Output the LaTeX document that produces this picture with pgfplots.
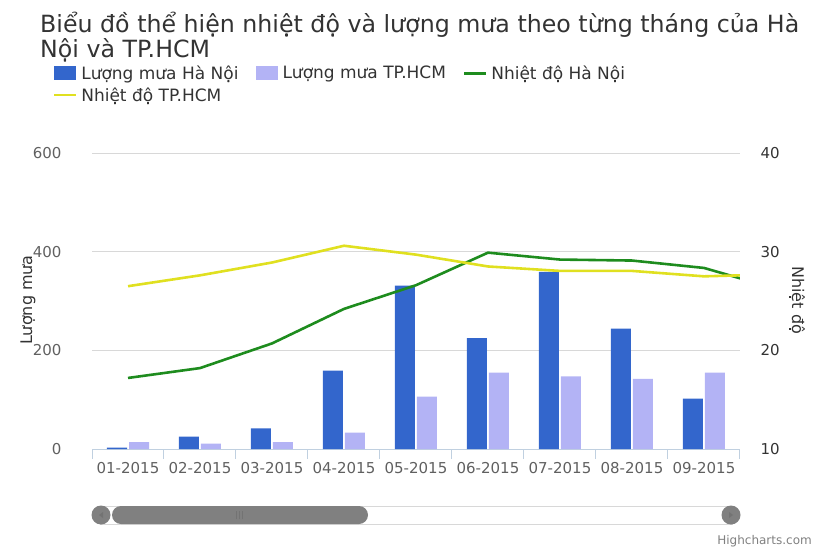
\documentclass[border=0pt]{standalone}
\usepackage{fontspec}
\setmainfont{DejaVu Sans}
\usepackage{pgfplots}
\pgfplotsset{compat=1.18}
\definecolor{hnrain}{HTML}{3366CC}
\definecolor{hcmrain}{HTML}{B3B3F5}
\definecolor{hntemp}{HTML}{1E8C1E}
\definecolor{hcmtemp}{HTML}{E0E020}
\definecolor{txt}{HTML}{333333}
\definecolor{lbl}{HTML}{606060}
\definecolor{axisc}{HTML}{C0D0E0}
\definecolor{gridc}{HTML}{D8D8D8}
\definecolor{sbar}{HTML}{808080}

\pgfplotstableread{
x hn hcm
0 3 14
1 25 11
2 42 14
3 159 33
4 331 106
5 225 155
6 359 147
7 244 142
8 102 155
}\rain

\pgfplotstableread{
x hn hcm
0 17.2 26.5
1 18.2 27.6
2 20.7 28.9
3 24.2 30.6
4 26.6 29.7
5 29.9 28.5
6 29.2 28.05
7 29.1 28.05
8 28.35 27.5
9 26.25 27.7
}\temp

\begin{document}
\begin{tikzpicture}
\useasboundingbox (0,0) rectangle (825pt,550pt);
\begin{axis}[
  at={(92pt,101pt)}, anchor=south west,
  scale only axis, width=648pt, height=296pt,
  xmin=-0.5, xmax=8.5, ymin=0, ymax=600,
  ybar=2pt, bar width=20pt,
  axis x line*=bottom, axis y line*=left,
  x axis line style={axisc, line width=1pt},
  y axis line style={draw=none},
  xtick={-0.5,0.5,...,8.5},
  xticklabels={01-2015,02-2015,03-2015,04-2015,05-2015,06-2015,07-2015,08-2015,09-2015,{}},
  xticklabel style={xshift=36pt, font=\fontsize{15}{18}\selectfont, text=lbl},
  tick align=outside, major tick length=10pt,
  xtick style={axisc, line width=1pt},
  ytick={0,200,400,600},
  ytick style={draw=none},
  ymajorgrids, grid style={gridc, line width=1pt},
  /pgf/number format/assume math mode=true,
  yticklabel style={font=\fontsize{15}{18}\selectfont, text=lbl, anchor=east, xshift=-17pt},
  ylabel={Lượng mưa},
  ylabel style={at={(axis description cs:-0.0988,0.503)}, anchor=center, font=\fontsize{16}{18}\selectfont, text=txt},
]
\addplot[fill=hnrain, draw=none] table[x=x, y=hn] {\rain};
\addplot[fill=hcmrain, draw=none] table[x=x, y=hcm] {\rain};
\end{axis}
\begin{axis}[
  at={(92pt,101pt)}, anchor=south west,
  scale only axis, width=648pt, height=296pt,
  xmin=-0.5, xmax=8.5, ymin=10, ymax=40,
  axis x line=none, axis y line*=right,
  y axis line style={draw=none},
  ytick={10,20,30,40},
  ytick style={draw=none},
  /pgf/number format/assume math mode=true,
  yticklabel style={font=\fontsize{15}{18}\selectfont, text=txt, anchor=west, xshift=17pt},
  ylabel={Nhiệt độ},
  ylabel style={at={(axis description cs:1.088,0.503)}, anchor=center, rotate=180, font=\fontsize{16}{18}\selectfont, text=txt},
  legend columns=3,
  legend cell align=left,
  legend style={at={(axis description cs:-0.0605,1.302)}, anchor=north west, draw=none, fill=none,
    font=\fontsize{17}{20}\selectfont, text=txt, inner sep=0pt, row sep=2.5pt,
    /tikz/every even column/.append style={column sep=15pt}},
]
\addlegendimage{legend image code/.code={\fill[hnrain, draw=none] (0pt,-7pt) rectangle (22pt,7pt); \path[draw=none, fill=none] (0pt,0pt) -- (25pt,0pt);}}
\addlegendentry{Lượng mưa Hà Nội}
\addlegendimage{legend image code/.code={\fill[hcmrain, draw=none] (0pt,-7pt) rectangle (22pt,7pt); \path[draw=none, fill=none] (0pt,0pt) -- (25pt,0pt);}}
\addlegendentry{Lượng mưa TP.HCM}
\addplot[hntemp, line width=2.6pt, legend image code/.code={\draw[hntemp, line width=2.6pt] (0pt,0pt) -- (22pt,0pt); \path[draw=none, fill=none] (0pt,0pt) -- (25pt,0pt);}] table[x=x, y=hn] {\temp};
\addlegendentry{Nhiệt độ Hà Nội}
\addplot[hcmtemp, line width=2.6pt, legend image code/.code={\draw[hcmtemp, line width=2.6pt] (0pt,0pt) -- (22pt,0pt); \path[draw=none, fill=none] (0pt,0pt) -- (25pt,0pt);}] table[x=x, y=hcm] {\temp};
\addlegendentry{Nhiệt độ TP.HCM}
\end{axis}
% title
\node[anchor=base west, text=txt, font=\fontsize{23.7}{28}\selectfont, inner sep=0pt] at (40pt,517pt) {Biểu đồ thể hiện nhiệt độ và lượng mưa theo từng tháng của Hà};
\node[anchor=base west, text=txt, font=\fontsize{23.7}{28}\selectfont, inner sep=0pt] at (40pt,492pt) {Nội và TP.HCM};
% scrollbar (navigator decoration)
\draw[gridc, line width=1pt, fill=white] (100pt,26pt) rectangle (732pt,44pt);
\fill[sbar] (101pt,35pt) circle (9.5pt);
\fill[sbar] (731pt,35pt) circle (9.5pt);
\fill[sbar, rounded corners=9pt] (112pt,26pt) rectangle (368pt,44pt);
\draw[black!55, line width=0.8pt] (236pt,31pt) -- (236pt,39pt) (239pt,31pt) -- (239pt,39pt) (242pt,31pt) -- (242pt,39pt);
\fill[black!55] (103pt,32pt) -- (99pt,35pt) -- (103pt,38pt) -- cycle;
\fill[black!55] (729pt,32pt) -- (733pt,35pt) -- (729pt,38pt) -- cycle;
\node[anchor=base east, text=black!50, font=\fontsize{12}{14}\selectfont, inner sep=0pt] at (812pt,6pt) {Highcharts.com};
\end{tikzpicture}
\end{document}
